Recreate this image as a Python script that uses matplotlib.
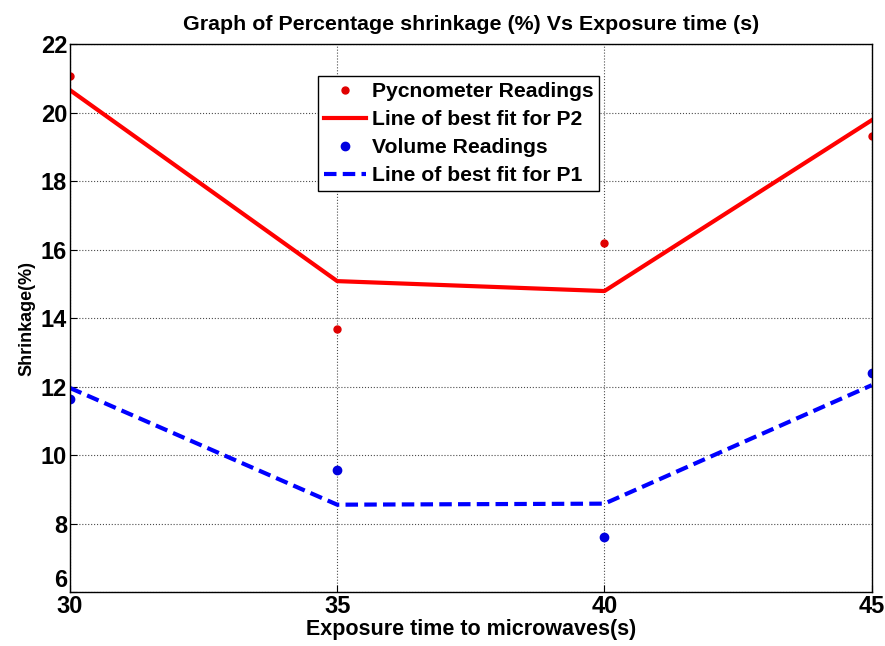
import matplotlib
matplotlib.use('Agg')
import matplotlib.pyplot as plt
from matplotlib import font_manager

exposure_time = [30, 35, 40, 45]
pycnometer_readings = [21.07, 13.68, 16.19, 19.31]
fit_p2 = [20.66, 15.08, 14.79, 19.78]
volume_readings = [11.63, 9.56, 7.61, 12.39]
fit_p1 = [11.96, 8.55, 8.58, 12.04]

x_ticks = [30, 35, 40, 45]
y_ticks = [6, 8, 10, 12, 14, 16, 18, 20, 22]

names = {f.name for f in font_manager.fontManager.ttflist}
tick_font = 'Liberation Sans Narrow' if 'Liberation Sans Narrow' in names else 'Liberation Sans'
plt.rcParams['font.family'] = ['Liberation Sans', 'DejaVu Sans']

fig = plt.figure(figsize=(8.85, 6.46), dpi=100)
ax = fig.add_axes([0.079, 0.0836, 0.906, 0.848])

ax.plot(exposure_time, pycnometer_readings, 'o', color='#e00000', markersize=5,
        label='Pycnometer Readings')
ax.plot(exposure_time, fit_p2, '-', color='#ff0000', linewidth=3,
        label='Line of best fit for P2')
ax.plot(exposure_time, volume_readings, 'o', color='#0000e0', markersize=6,
        label='Volume Readings')
ax.plot(exposure_time, fit_p1, '--', color='#0000ff', linewidth=3,
        dashes=(3, 1.5), label='Line of best fit for P1')

ax.set_xlim(30, 45)
ax.set_ylim(6, 22)
ax.set_xticks(x_ticks)
ax.set_yticks(y_ticks)
ax.grid(True, linestyle=':', color='black', linewidth=0.8, alpha=0.7)
ax.tick_params(direction='in', length=5, width=0.8, labelsize=17, pad=2)
for lab in ax.get_xticklabels() + ax.get_yticklabels():
    lab.set_fontfamily(tick_font)
    lab.set_fontweight('bold')
# bottom y label sits a little higher, like the original
ax.get_yticklabels()[0].set_verticalalignment('bottom')
for side in ax.spines.values():
    side.set_linewidth(1.0)

ax.set_title('Graph of Percentage shrinkage (%) Vs Exposure time (s)',
             fontsize=15.4, fontweight='bold', pad=10)
ax.set_xlabel('Exposure time to microwaves(s)', fontsize=15.5, fontweight='bold', labelpad=1)
ax.set_ylabel('Shrinkage(%)', fontsize=13, fontweight='bold', labelpad=4)

leg = ax.legend(loc='upper left', bbox_to_anchor=(0.309, 0.942),
                prop={'weight': 'bold', 'size': 15.2}, fancybox=False,
                edgecolor='black', framealpha=1, borderpad=0.3,
                labelspacing=0.42, handlelength=2.0, handletextpad=0.25,
                borderaxespad=0)
leg.get_frame().set_linewidth(1.0)

fig.savefig('out.png', dpi=100)
plt.close(fig)
